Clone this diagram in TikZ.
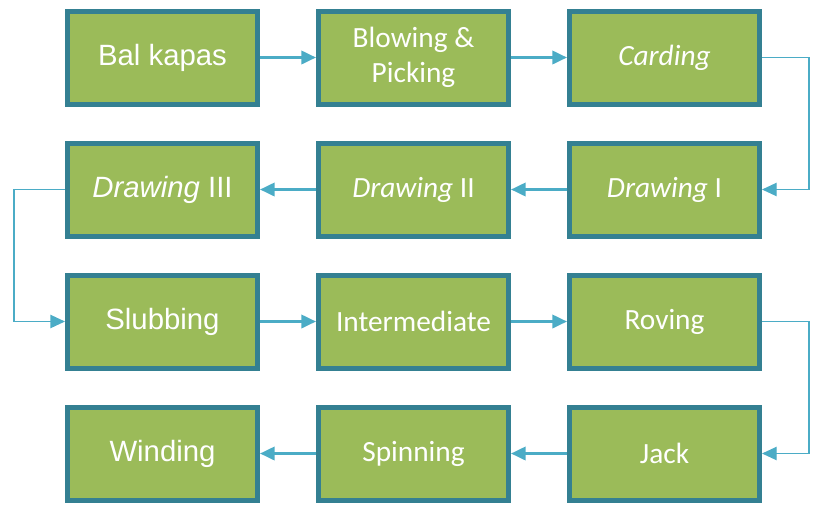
\documentclass[tikz,border=0pt]{standalone}
\usepackage{fontspec}
\setmainfont{Carlito}
\newfontfamily\arialfont{Liberation Sans}
\usepackage{tikz}
\usetikzlibrary{arrows.meta,positioning}
\definecolor{boxfill}{RGB}{155,187,89}
\definecolor{boxline}{RGB}{52,128,146}
\definecolor{flow}{RGB}{75,172,198}

\begin{document}
\begin{tikzpicture}[
    x=0.75pt,y=-0.75pt,
    node distance=25.5pt and 42pt,
    stage/.style={rectangle,draw=boxline,line width=3.75pt,fill=boxfill,text=white,minimum width=142.5pt,minimum height=69.75pt,align=center,font=\fontsize{22}{26}\selectfont#1},
    stage/.default={},
    flowarrow/.style={-{Triangle[length=11pt,width=10pt]},line width=#1,draw=flow}
]
\useasboundingbox (0,0) rectangle (813,504);

\node[stage=\arialfont] at (162.5,57.5) (kapas) {Bal kapas};
\node[stage,right=of kapas] (blow) {Blowing \&\\Picking};
\node[stage,right=of blow] (card) {\textit{Carding}};
\node[stage,below=of card] (draw1) {\textit{Drawing} I};
\node[stage,left=of draw1] (draw2) {\textit{Drawing} II};
\node[stage=\arialfont,left=of draw2] (draw3) {\textit{Drawing} III};
\node[stage=\arialfont,below=of draw3] (slub) {Slubbing};
\node[stage,right=of slub] (inter) {Intermediate};
\node[stage,right=of inter] (rov) {Roving};
\node[stage,below=of rov] (jack) {Jack};
\node[stage,left=of jack] (spin) {Spinning};
\node[stage=\arialfont,left=of spin] (wind) {Winding};

\draw[flowarrow=2pt] (kapas) -- (blow);
\draw[flowarrow=2pt] (blow) -- (card);
\draw[flowarrow=1pt] (card.east) -- ++(47,0) |- (draw1.east);
\draw[flowarrow=2pt] (draw1) -- (draw2);
\draw[flowarrow=2pt] (draw2) -- (draw3);
\draw[flowarrow=1pt] (draw3.west) -- ++(-51,0) |- (slub.west);
\draw[flowarrow=2pt] (slub) -- (inter);
\draw[flowarrow=2pt] (inter) -- (rov);
\draw[flowarrow=1pt] (rov.east) -- ++(47,0) |- (jack.east);
\draw[flowarrow=2pt] (jack) -- (spin);
\draw[flowarrow=2pt] (spin) -- (wind);

\end{tikzpicture}
\end{document}
